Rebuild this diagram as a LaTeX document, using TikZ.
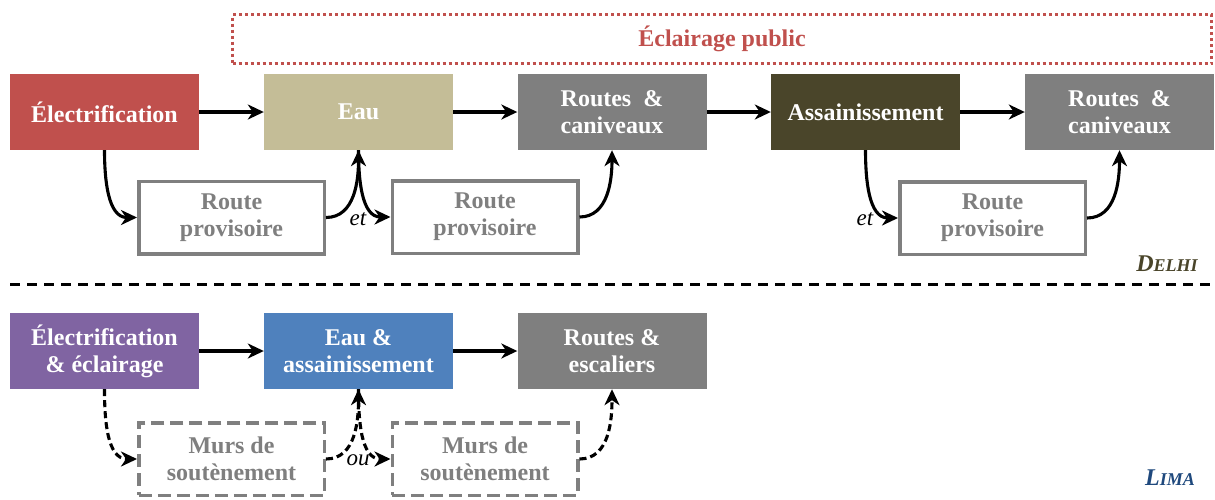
\documentclass[tikz,border=0pt]{standalone}
\usepackage{fontspec}
\setmainfont{Liberation Serif}
\usetikzlibrary{arrows.meta}
\definecolor{cred}{HTML}{C0504D}
\definecolor{ctan}{HTML}{C4BD97}
\definecolor{cgray}{HTML}{7F7F7F}
\definecolor{colive}{HTML}{4A452A}
\definecolor{cpurple}{HTML}{8064A2}
\definecolor{cblue}{HTML}{4F81BD}
\definecolor{cnavy}{HTML}{1F497D}
\begin{document}
\begin{tikzpicture}[x=1pt,y=-1pt,
  txt/.style={font=\fontsize{24}{27}\selectfont\bfseries, align=center},
  fillbox/.style={txt, minimum width=189pt, minimum height=76pt, inner sep=0pt, text=white},
  outbox/.style={txt, draw=cgray, line width=3.5pt, fill=white, minimum width=185.5pt, minimum height=72.5pt, inner sep=0pt, text=cgray},
  dashbox/.style={outbox, dash pattern=on 13pt off 6pt},
  arr/.style={-{Stealth[length=16pt,width=15pt,inset=5pt]}, line width=3.1pt},
  darr/.style={arr, dash pattern=on 7pt off 4pt},
  lbl/.style={font=\fontsize{23}{23}\selectfont\itshape},
  sepline/.style={line width=3pt, dash pattern=on 10pt off 7pt}
]
\useasboundingbox (0,0) rectangle (1215,499);

% Delhi
\node[txt, draw=cred, line width=3.5pt, dash pattern=on 3pt off 3pt, minimum width=979pt, minimum height=49pt, inner sep=0pt, text=cred] (ecl) at (722,39) {Éclairage public};
\node[fillbox, fill=cred] (elec) at (104.5,112) {Électrification};
\node[fillbox, fill=ctan] (eau) at (358.5,112) {Eau};
\node[fillbox, fill=cgray] (rc1) at (612,112) {Routes\hspace{0.5em}\&\\caniveaux};
\node[fillbox, fill=colive] (ass) at (865.5,112) {Assainissement};
\node[fillbox, fill=cgray] (rc2) at (1119.5,112) {Routes\hspace{0.5em}\&\\caniveaux};
\node[outbox] (rp1) at (231.5,217.5) {Route\\provisoire};
\node[outbox] (rp2) at (485,217) {Route\\provisoire};
\node[outbox] (rp3) at (992.5,218) {Route\\provisoire};

\draw[arr] (elec) -- (eau);
\draw[arr] (eau) -- (rc1);
\draw[arr] (rc1) -- (ass);
\draw[arr] (ass) -- (rc2);
\draw[arr] (elec.south) to[out=-90,in=180] (rp1.west);
\draw[arr] (rp1.east) to[out=0,in=-90] (eau.south);
\draw[arr] (eau.south) to[out=-90,in=180] (rp2.west);
\draw[arr] (rp2.east) to[out=0,in=-90] (rc1.south);
\draw[arr] (ass.south) to[out=-90,in=180] (rp3.west);
\draw[arr] (rp3.east) to[out=0,in=-90] (rc2.south);
\node[lbl] (et1) at (358,219) {et};
\node[lbl] (et2) at (865,219) {et};
\node[font=\bfseries\itshape, text=colive] (delhi) at (1167,264) {\fontsize{24}{24}\selectfont D\fontsize{18}{18}\selectfont ELHI};

% separator
\coordinate (sepL) at (10,284);
\coordinate (sepR) at (1212,284);
\draw[sepline] (sepL) -- (sepR);

% Lima
\node[fillbox, fill=cpurple] (elec2) at (104.5,351) {Électrification\\\& éclairage};
\node[fillbox, fill=cblue] (eau2) at (358.5,351) {Eau \&\\assainissement};
\node[fillbox, fill=cgray] (re) at (612,351) {Routes \&\\escaliers};
\node[dashbox] (m1) at (231.5,459) {Murs de\\soutènement};
\node[dashbox] (m2) at (485,459) {Murs de\\soutènement};

\draw[arr] (elec2) -- (eau2);
\draw[arr] (eau2) -- (re);
\draw[darr] (elec2.south) to[out=-90,in=180] (m1.west);
\draw[darr] (m1.east) to[out=0,in=-90] (eau2.south);
\draw[darr] (eau2.south) to[out=-90,in=180] (m2.west);
\draw[darr] (m2.east) to[out=0,in=-90] (re.south);
\node[lbl] (ou) at (358,460) {ou};
\node[font=\bfseries\itshape, text=cnavy] (lima) at (1170,478) {\fontsize{24}{24}\selectfont L\fontsize{18}{18}\selectfont IMA};
\end{tikzpicture}
\end{document}
